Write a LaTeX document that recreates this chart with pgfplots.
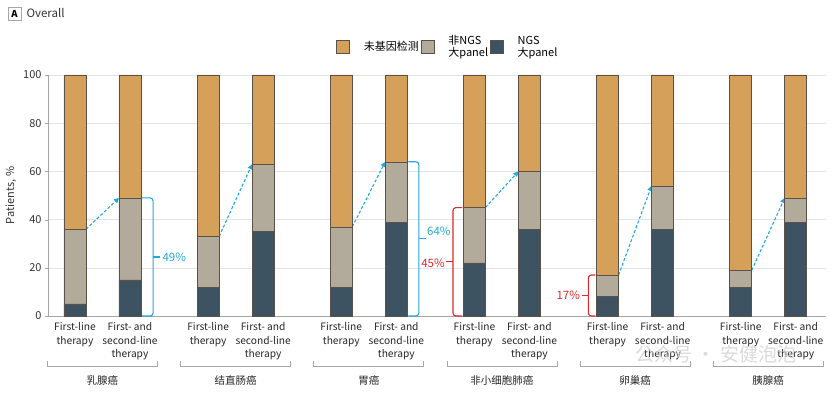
\documentclass[border=0pt]{standalone}
\usepackage{fontspec}
\setmainfont{Noto Sans CJK SC}
\usepackage{pgfplots}
\usepackage{pgfplotstable}
\pgfplotsset{compat=1.18}
\usetikzlibrary{arrows.meta}
\definecolor{cNone}{HTML}{D4A05A}
\definecolor{cNon}{HTML}{B2AA9B}
\definecolor{cNGS}{HTML}{3E5361}
\definecolor{cEdge}{HTML}{5A5148}
\definecolor{cCyan}{HTML}{22A8DF}
\definecolor{cRed}{HTML}{E3262B}
\pgfplotstableread{
x ngs non none
0 5 31 64
1 15 34 51
2.42 12 21 67
3.42 35 28 37
4.84 12 25 63
5.84 39 25 36
7.26 22 23 55
8.26 36 24 40
9.68 8 9 83
10.68 36 18 46
12.1 12 7 81
13.1 39 10 51
}\data
\tikzset{
  darr/.style={cCyan, line width=1.1pt, dash pattern=on 3pt off 2pt, -{Triangle[length=5pt,width=5pt]}},
  brk/.style={line width=1.1pt, rounded corners=3pt},
  grp/.style={gray!70, line width=0.6pt},
  gname/.style={font=\fontsize{10.5}{12}\selectfont, text=black!85},
}
\begin{document}
\begin{tikzpicture}
\path[use as bounding box] (0,0) rectangle (830pt,394pt);
\node[draw=gray!70, line width=0.6pt, inner sep=0pt, minimum size=13pt, font=\fontsize{9.5}{11}\selectfont\bfseries] at (14.5pt,380.5pt) {A};
\node[anchor=west, font=\fontsize{11.5}{13}\selectfont, text=black!80] at (23pt,381pt) {Overall};
\begin{axis}[
  at={(48pt,78pt)}, anchor=south west,
  scale only axis, width=778pt, height=241pt,
  xmin=-0.49, xmax=13.65, ymin=0, ymax=100,
  ybar stacked, bar width=22pt,
  clip=false,
  axis x line*=bottom, axis y line*=left,
  axis line style={gray!70, line width=0.6pt},
  ytick={0,20,...,100},
  ymajorgrids, grid style={gray!20, line width=0.6pt},
  tick align=outside, major tick length=3pt,
  ytick style={gray!70},
  xtick style={draw=none},
  xtick={0,1,2.42,3.42,4.84,5.84,7.26,8.26,9.68,10.68,12.1,13.1},
  xticklabels={First-line\\therapy, First- and\\second-line\\therapy,
               First-line\\therapy, First- and\\second-line\\therapy,
               First-line\\therapy, First- and\\second-line\\therapy,
               First-line\\therapy, First- and\\second-line\\therapy,
               First-line\\therapy, First- and\\second-line\\therapy,
               First-line\\therapy, First- and\\second-line\\therapy},
  xticklabel style={align=center, font=\fontsize{10.2}{13.5}\selectfont, text=black!85},
  yticklabel style={font=\fontsize{11}{13}\selectfont, text=black!80},
  /pgf/number format/assume math mode=true,
  ylabel={Patients, \%}, ylabel style={font=\fontsize{11}{13}\selectfont, text=black!80},
  legend columns=3,
  legend style={at={(rel axis cs:0.514,1.116)}, anchor=center, draw=none, fill=none,
    font=\fontsize{11}{12}\selectfont, nodes={align=left},
    /tikz/every even column/.append style={column sep=0pt},
    /tikz/every odd column/.append style={column sep=12pt}},
]
\addplot[fill=cNGS, draw=cEdge, line width=0.5pt, forget plot] table[x=x, y=ngs]{\data};
\addplot[fill=cNon, draw=cEdge, line width=0.5pt, forget plot] table[x=x, y=non]{\data};
\addplot[fill=cNone, draw=cEdge, line width=0.5pt, forget plot] table[x=x, y=none]{\data};
\addlegendimage{legend image code/.code={\draw[fill=cNone, draw=cEdge, line width=0.5pt] (0pt,-6.5pt) rectangle (13pt,6.5pt);}}
\addlegendentry{未基因检测}
\addlegendimage{legend image code/.code={\draw[fill=cNon, draw=cEdge, line width=0.5pt] (0pt,-6.5pt) rectangle (13pt,6.5pt);}}
\addlegendentry{非NGS\\大panel}
\addlegendimage{legend image code/.code={\draw[fill=cNGS, draw=cEdge, line width=0.5pt] (0pt,-6.5pt) rectangle (13pt,6.5pt);}}
\addlegendentry{NGS\\大panel}

% dashed arrows
\draw[darr] (axis cs:0.2,36) -- (axis cs:0.8,49);
\draw[darr] (axis cs:2.62,33) -- (axis cs:3.22,63);
\draw[darr] (axis cs:5.04,37) -- (axis cs:5.64,64);
\draw[darr] (axis cs:7.46,45) -- (axis cs:8.06,60);
\draw[darr] (axis cs:9.88,17) -- (axis cs:10.48,54);
\draw[darr] (axis cs:12.3,19) -- (axis cs:12.9,49);
% cyan braces
\draw[cCyan, brk] (axis cs:1.22,0) -- (axis cs:1.42,0) -- (axis cs:1.42,49) -- (axis cs:1.22,49);
\draw[cCyan, line width=1.1pt] (axis cs:1.42,24.5) -- (axis cs:1.55,24.5);
\node[anchor=west, text=cCyan, font=\fontsize{11.5}{13}\selectfont, inner sep=1pt] at (axis cs:1.57,24.5) {49\%};
\draw[cCyan, brk] (axis cs:6.06,0) -- (axis cs:6.25,0) -- (axis cs:6.25,64) -- (axis cs:6.06,64);
\draw[cCyan, line width=1.1pt] (axis cs:6.25,32) -- (axis cs:6.38,32);
\node[anchor=west, text=cCyan, font=\fontsize{11.5}{13}\selectfont, inner sep=1pt] at (axis cs:6.38,35) {64\%};
% red braces
\draw[cRed, brk] (axis cs:7.04,0) -- (axis cs:6.87,0) -- (axis cs:6.87,45) -- (axis cs:7.04,45);
\draw[cRed, line width=1.1pt] (axis cs:6.87,22.5) -- (axis cs:6.75,22.5);
\node[anchor=east, text=cRed, font=\fontsize{11.5}{13}\selectfont, inner sep=1pt] at (axis cs:6.74,22) {45\%};
\draw[cRed, brk] (axis cs:9.46,0) -- (axis cs:9.33,0) -- (axis cs:9.33,17) -- (axis cs:9.46,17);
\draw[cRed, line width=1.1pt] (axis cs:9.33,8.5) -- (axis cs:9.21,8.5);
\node[anchor=east, text=cRed, font=\fontsize{11.5}{13}\selectfont, inner sep=1pt] at (axis cs:9.2,8.5) {17\%};
% in-bar labels
\node[text=white!92!gray, font=\fontsize{11.5}{13}\selectfont] at (axis cs:7.26,33.5) {23\%};
\node[text=white!92!gray, font=\fontsize{11.5}{13}\selectfont] at (axis cs:7.26,12) {22\%};
\node[text=white!92!gray, font=\fontsize{10.5}{13}\selectfont] at (axis cs:9.68,12.7) {9\%};
\node[text=white!92!gray, font=\fontsize{10.5}{13}\selectfont] at (axis cs:9.68,4.2) {8\%};
% group brackets and names
\draw[grp] (axis cs:-0.5,-18.6) -- (axis cs:-0.5,-20.7) -- (axis cs:1.5,-20.7) -- (axis cs:1.5,-18.6);
\draw[grp] (axis cs:1.92,-18.6) -- (axis cs:1.92,-20.7) -- (axis cs:3.92,-20.7) -- (axis cs:3.92,-18.6);
\draw[grp] (axis cs:4.34,-18.6) -- (axis cs:4.34,-20.7) -- (axis cs:6.34,-20.7) -- (axis cs:6.34,-18.6);
\draw[grp] (axis cs:6.76,-18.6) -- (axis cs:6.76,-20.7) -- (axis cs:8.76,-20.7) -- (axis cs:8.76,-18.6);
\draw[grp] (axis cs:9.18,-18.6) -- (axis cs:9.18,-20.7) -- (axis cs:11.18,-20.7) -- (axis cs:11.18,-18.6);
\draw[grp] (axis cs:11.6,-18.6) -- (axis cs:11.6,-20.7) -- (axis cs:13.6,-20.7) -- (axis cs:13.6,-18.6);
\node[gname] at (axis cs:0.5,-26.6) {乳腺癌};
\node[gname] at (axis cs:2.92,-26.6) {结直肠癌};
\node[gname] at (axis cs:5.34,-26.6) {胃癌};
\node[gname] at (axis cs:7.76,-26.6) {非小细胞肺癌};
\node[gname] at (axis cs:10.18,-26.6) {卵巢癌};
\node[gname] at (axis cs:12.6,-26.6) {胰腺癌};
\end{axis}
\node[anchor=west, text=gray!35, opacity=0.8, font=\fontsize{19}{21}\selectfont] at (632pt,40pt) {公众号 · 安健泡泡};
\end{tikzpicture}
\end{document}
